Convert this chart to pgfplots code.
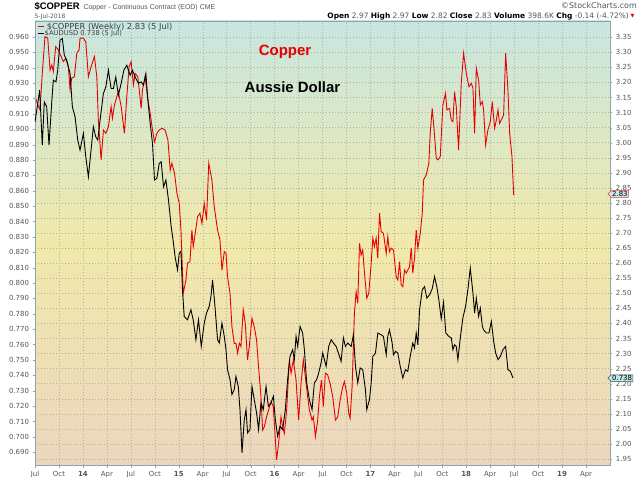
\documentclass[border=0pt]{standalone}
\usepackage{pgfplots}
\pgfplotsset{compat=1.18}
\usepackage{fontspec}
\setmainfont{DejaVu Sans}
\newfontfamily\arialfont{Liberation Sans}
\usetikzlibrary{shapes.symbols}
\definecolor{bgtop}{RGB}{200,230,224}
\definecolor{bgmid}{RGB}{241,233,170}
\definecolor{bgbot}{RGB}{236,214,190}
\definecolor{framec}{RGB}{140,165,170}
\definecolor{tickc}{RGB}{85,85,85}
\definecolor{gridc}{RGB}{170,180,165}
\definecolor{cured}{RGB}{230,0,0}
\definecolor{tagfill}{RGB}{190,232,232}
\begin{document}
\begin{tikzpicture}
\path[use as bounding box] (0bp,0bp) rectangle (640bp,477bp);
\pgfplotsset{
  common/.style={
    at={(35bp,12bp)}, anchor=south west, scale only axis,
    width=575bp, height=444bp,
    xmin=2013.5, xmax=2019.5,
    tick align=outside, major tick length=2.5bp,
    axis line style={framec},
    tick style={framec},
    ticklabel style={font=\fontsize{7}{8}\selectfont, text=tickc},
  }
}
\begin{axis}[common,
  ymin=1.930, ymax=3.404,
  axis background/.style={top color=bgtop, bottom color=bgbot, middle color=bgmid},
  xtick={2013.5,2013.75,2014,2014.25,2014.5,2014.75,2015,2015.25,2015.5,2015.75,2016,2016.25,2016.5,2016.75,2017,2017.25,2017.5,2017.75,2018,2018.25,2018.5,2018.75,2019,2019.25},
  xticklabels={Jul,Oct,\textbf{14},Apr,Jul,Oct,\textbf{15},Apr,Jul,Oct,\textbf{16},Apr,Jul,Oct,\textbf{17},Apr,Jul,Oct,\textbf{18},Apr,Jul,Oct,\textbf{19},Apr},
  xtick pos=left,
  ytick={1.95,2.00,2.05,2.10,2.15,2.20,2.25,2.30,2.35,2.40,2.45,2.50,2.55,2.60,2.65,2.70,2.75,2.80,2.85,2.90,2.95,3.00,3.05,3.10,3.15,3.20,3.25,3.30,3.35},
  ytick pos=right, yticklabel pos=right,
  yticklabel style={/pgf/number format/.cd, fixed, fixed zerofill, precision=2, assume math mode=true},
  grid=major, major grid style={line width=0.4bp, dash pattern=on 0.8bp off 2.2bp, gridc},
]
\addplot[cured, line width=0.9bp] table {
2013.500 3.153
2013.518 3.136
2013.552 3.109
2013.576 3.230
2013.604 3.352
2013.633 3.347
2013.657 3.241
2013.675 3.258
2013.691 3.236
2013.716 3.319
2013.743 3.308
2013.772 3.286
2013.796 3.269
2013.821 3.280
2013.848 3.252
2013.866 3.175
2013.883 3.214
2013.911 3.219
2013.936 3.297
2013.960 3.308
2013.970 3.347
2014.005 3.347
2014.030 3.335
2014.057 3.219
2014.085 3.252
2014.120 3.286
2014.145 3.219
2014.161 3.075
2014.190 2.943
2014.214 3.042
2014.239 3.031
2014.266 3.053
2014.294 3.120
2014.308 3.081
2014.329 3.125
2014.354 3.153
2014.370 3.169
2014.399 3.120
2014.433 3.031
2014.458 3.153
2014.482 3.252
2014.503 3.269
2014.527 3.192
2014.545 3.230
2014.573 3.219
2014.608 3.114
2014.621 3.175
2014.649 3.219
2014.678 3.142
2014.702 3.098
2014.726 3.042
2014.747 3.003
2014.772 3.031
2014.796 3.042
2014.824 3.048
2014.858 3.042
2014.887 3.009
2014.911 2.909
2014.928 2.932
2014.956 2.899
2014.981 2.832
2015.005 2.799
2015.023 2.710
2015.047 2.500
2015.075 2.544
2015.091 2.600
2015.117 2.605
2015.137 2.710
2015.151 2.655
2015.172 2.699
2015.196 2.754
2015.221 2.766
2015.242 2.732
2015.266 2.799
2015.290 2.743
2015.313 2.932
2015.346 2.876
2015.370 2.788
2015.405 2.710
2015.430 2.677
2015.451 2.577
2015.475 2.638
2015.493 2.633
2015.509 2.555
2015.535 2.500
2015.555 2.389
2015.579 2.334
2015.597 2.334
2015.614 2.301
2015.632 2.334
2015.649 2.323
2015.673 2.445
2015.694 2.401
2015.718 2.279
2015.736 2.323
2015.764 2.417
2015.788 2.389
2015.812 2.345
2015.833 2.256
2015.858 2.157
2015.875 2.046
2015.893 2.057
2015.917 2.090
2015.938 2.113
2015.963 2.140
2015.987 2.124
2016.008 2.013
2016.021 1.947
2016.042 2.002
2016.067 2.090
2016.084 2.057
2016.102 2.035
2016.126 2.113
2016.154 2.279
2016.172 2.235
2016.196 2.279
2016.224 2.212
2016.251 2.079
2016.276 2.201
2016.300 2.279
2016.321 2.223
2016.345 2.157
2016.363 2.113
2016.391 2.079
2016.405 2.090
2016.426 2.024
2016.450 2.079
2016.468 2.157
2016.489 2.212
2016.509 2.124
2016.530 2.235
2016.554 2.229
2016.579 2.201
2016.607 2.157
2016.635 2.079
2016.659 2.090
2016.684 2.146
2016.711 2.190
2016.729 2.207
2016.753 2.168
2016.774 2.102
2016.788 2.085
2016.809 2.190
2016.833 2.434
2016.851 2.505
2016.868 2.467
2016.886 2.666
2016.903 2.627
2016.920 2.644
2016.938 2.567
2016.962 2.484
2016.983 2.500
2017.008 2.600
2017.025 2.683
2017.042 2.655
2017.060 2.683
2017.077 2.616
2017.095 2.766
2017.112 2.705
2017.136 2.699
2017.165 2.633
2017.181 2.688
2017.199 2.638
2017.217 2.650
2017.241 2.644
2017.269 2.555
2017.286 2.544
2017.304 2.605
2017.321 2.528
2017.338 2.522
2017.356 2.577
2017.374 2.567
2017.390 2.577
2017.408 2.588
2017.426 2.650
2017.442 2.567
2017.460 2.616
2017.478 2.710
2017.495 2.650
2017.520 2.699
2017.541 2.766
2017.554 2.876
2017.583 2.893
2017.610 2.932
2017.624 3.031
2017.645 3.114
2017.662 3.053
2017.687 2.948
2017.704 2.943
2017.729 2.954
2017.756 3.125
2017.784 3.164
2017.798 3.109
2017.826 3.114
2017.844 3.075
2017.861 3.070
2017.878 3.169
2017.896 3.120
2017.920 2.976
2017.948 3.197
2017.972 3.297
2018.001 3.230
2018.028 3.186
2018.053 3.197
2018.070 3.181
2018.087 3.031
2018.105 3.247
2018.129 3.208
2018.147 3.125
2018.168 3.136
2018.181 3.109
2018.202 2.992
2018.226 3.042
2018.251 3.070
2018.272 3.136
2018.296 3.048
2018.314 3.075
2018.331 3.109
2018.348 3.064
2018.366 3.075
2018.390 3.092
2018.411 3.297
2018.435 3.175
2018.453 3.031
2018.477 2.954
2018.495 2.826
};
\end{axis}
\begin{axis}[common,
  ymin=0.6817, ymax=0.9704,
  hide x axis,
  ytick={0.69,0.70,0.71,0.72,0.73,0.74,0.75,0.76,0.77,0.78,0.79,0.80,0.81,0.82,0.83,0.84,0.85,0.86,0.87,0.88,0.89,0.90,0.91,0.92,0.93,0.94,0.95,0.96},
  ytick pos=left, yticklabel pos=left,
  yticklabel style={/pgf/number format/.cd, fixed, fixed zerofill, precision=3, assume math mode=true},
]
\addplot[black, line width=0.9bp] table {
2013.500 0.9048
2013.549 0.9254
2013.576 0.8897
2013.597 0.9178
2013.622 0.9146
2013.646 0.8897
2013.675 0.9178
2013.691 0.9319
2013.719 0.9308
2013.737 0.9384
2013.761 0.9579
2013.785 0.9590
2013.806 0.9481
2013.831 0.9449
2013.866 0.9362
2013.890 0.9146
2013.918 0.9081
2013.946 0.8930
2013.970 0.8865
2014.005 0.8973
2014.030 0.8821
2014.057 0.8691
2014.085 0.8865
2014.109 0.9016
2014.134 0.8951
2014.155 0.8930
2014.179 0.9059
2014.214 0.9233
2014.239 0.9275
2014.266 0.9384
2014.294 0.9265
2014.318 0.9265
2014.343 0.9340
2014.370 0.9222
2014.399 0.9298
2014.427 0.9384
2014.458 0.9416
2014.493 0.9351
2014.517 0.9384
2014.545 0.9340
2014.579 0.9298
2014.608 0.9308
2014.632 0.9287
2014.657 0.9362
2014.678 0.9189
2014.702 0.9038
2014.726 0.8908
2014.747 0.8670
2014.772 0.8681
2014.796 0.8778
2014.817 0.8789
2014.841 0.8626
2014.866 0.8670
2014.893 0.8540
2014.921 0.8367
2014.945 0.8259
2014.962 0.8170
2014.987 0.8086
2015.005 0.8194
2015.023 0.8205
2015.039 0.7956
2015.057 0.7783
2015.091 0.7761
2015.127 0.7826
2015.151 0.7761
2015.179 0.7632
2015.206 0.7761
2015.235 0.7588
2015.266 0.7740
2015.290 0.7805
2015.318 0.7848
2015.336 0.7913
2015.353 0.8021
2015.378 0.7848
2015.405 0.7632
2015.423 0.7610
2015.451 0.7740
2015.475 0.7653
2015.493 0.7567
2015.509 0.7437
2015.535 0.7372
2015.555 0.7275
2015.579 0.7307
2015.597 0.7393
2015.621 0.7328
2015.639 0.7177
2015.660 0.6896
2015.684 0.7112
2015.702 0.7177
2015.718 0.7026
2015.743 0.7047
2015.764 0.7328
2015.788 0.7242
2015.812 0.7156
2015.833 0.7047
2015.858 0.7221
2015.882 0.7177
2015.911 0.7328
2015.935 0.7199
2015.963 0.7221
2015.987 0.7264
2016.008 0.7112
2016.032 0.7004
2016.057 0.7069
2016.084 0.7047
2016.112 0.7177
2016.136 0.7372
2016.161 0.7523
2016.189 0.7567
2016.206 0.7502
2016.224 0.7653
2016.241 0.7588
2016.266 0.7718
2016.293 0.7675
2016.311 0.7567
2016.335 0.7351
2016.363 0.7242
2016.391 0.7177
2016.415 0.7351
2016.439 0.7372
2016.460 0.7415
2016.485 0.7480
2016.502 0.7545
2016.520 0.7502
2016.538 0.7458
2016.565 0.7588
2016.590 0.7632
2016.614 0.7610
2016.642 0.7588
2016.666 0.7545
2016.694 0.7491
2016.718 0.7643
2016.739 0.7588
2016.763 0.7610
2016.799 0.7588
2016.823 0.7664
2016.844 0.7458
2016.868 0.7351
2016.893 0.7448
2016.920 0.7437
2016.948 0.7307
2016.962 0.7177
2016.990 0.7242
2017.008 0.7351
2017.025 0.7523
2017.053 0.7545
2017.077 0.7675
2017.112 0.7664
2017.136 0.7653
2017.165 0.7534
2017.181 0.7653
2017.199 0.7696
2017.227 0.7610
2017.241 0.7534
2017.262 0.7556
2017.286 0.7545
2017.311 0.7458
2017.338 0.7383
2017.366 0.7437
2017.390 0.7426
2017.415 0.7523
2017.442 0.7610
2017.460 0.7578
2017.478 0.7675
2017.495 0.7599
2017.513 0.7826
2017.541 0.7956
2017.565 0.7977
2017.589 0.7902
2017.617 0.7924
2017.645 0.7963
2017.669 0.8042
2017.693 0.7977
2017.714 0.7891
2017.739 0.7768
2017.763 0.7875
2017.787 0.7675
2017.819 0.7653
2017.844 0.7643
2017.861 0.7567
2017.878 0.7599
2017.896 0.7588
2017.913 0.7502
2017.938 0.7643
2017.965 0.7774
2017.993 0.7848
2018.017 0.7956
2018.042 0.8097
2018.070 0.7935
2018.087 0.7805
2018.105 0.7902
2018.129 0.7783
2018.147 0.7837
2018.168 0.7718
2018.181 0.7696
2018.210 0.7675
2018.237 0.7675
2018.262 0.7750
2018.286 0.7621
2018.307 0.7545
2018.331 0.7502
2018.356 0.7523
2018.383 0.7567
2018.411 0.7588
2018.435 0.7437
2018.460 0.7426
2018.488 0.7383
};
\end{axis}
% header
\node[anchor=base west, inner sep=0pt, font=\arialfont\bfseries\fontsize{9.5}{10}\selectfont] at (34.3bp,467.5bp) {\$COPPER};
\node[anchor=base west, inner sep=0pt, text=tickc, font=\arialfont\fontsize{7}{8}\selectfont] at (83.3bp,467.5bp) {Copper - Continuous Contract (EOD) CME};
\node[anchor=base west, inner sep=0pt, text=tickc, font=\fontsize{6}{7}\selectfont] at (34.3bp,458.7bp) {5-Jul-2018};
\node[anchor=base east, inner sep=0pt, text=tickc, font=\fontsize{8}{9}\selectfont] at (637bp,468.5bp) {©StockCharts.com};
\node[anchor=base east, inner sep=0pt, font=\fontsize{7.5}{8}\selectfont] at (629bp,458.7bp) {\textbf{Open} \textcolor{tickc}{2.97}\ \textbf{High} \textcolor{tickc}{2.97}\ \textbf{Low} \textcolor{tickc}{2.82}\ \textbf{Close} \textcolor{tickc}{2.83}\ \textbf{Volume} \textcolor{tickc}{398.6K}\ \textbf{Chg} \textcolor{tickc}{-0.14 (-4.72\%)}};
\node[anchor=base west, inner sep=0pt, text=cured, font=\fontsize{5}{6}\selectfont] at (630.5bp,459.5bp) {▼};
% legend
\draw[cured, line width=1.3bp] (38bp,450.3bp) -- (43.5bp,450.3bp);
\node[anchor=base west, inner sep=0pt, text=black!75, font=\fontsize{8.3}{9}\selectfont] at (46.7bp,447.8bp) {\$COPPER (Weekly) 2.83 (5 Jul)};
\draw[black, line width=1.3bp] (38bp,443.5bp) -- (43.5bp,443.5bp);
\node[anchor=base west, inner sep=0pt, text=black!75, font=\fontsize{6.8}{7}\selectfont] at (44.5bp,441.2bp) {\$AUDUSD 0.738 (5 Jul)};
% annotations
\node[text=cured, font=\arialfont\bfseries\fontsize{15}{17}\selectfont] at (285bp,425bp) {Copper};
\node[text=black, font=\arialfont\bfseries\fontsize{15}{17}\selectfont] at (292.5bp,390bp) {Aussie Dollar};
% value tags
\node[signal, signal to=west, draw=red!80, fill=tagfill, inner sep=0.8bp, line width=0.5bp, font=\fontsize{7}{8}\selectfont, anchor=west] at (607.5bp,283.1bp) {2.83};
\node[signal, signal to=west, draw=black!70, fill=tagfill, inner sep=0.8bp, line width=0.5bp, font=\fontsize{7}{8}\selectfont, anchor=west] at (607.5bp,98.8bp) {0.738};
\end{tikzpicture}
\end{document}
